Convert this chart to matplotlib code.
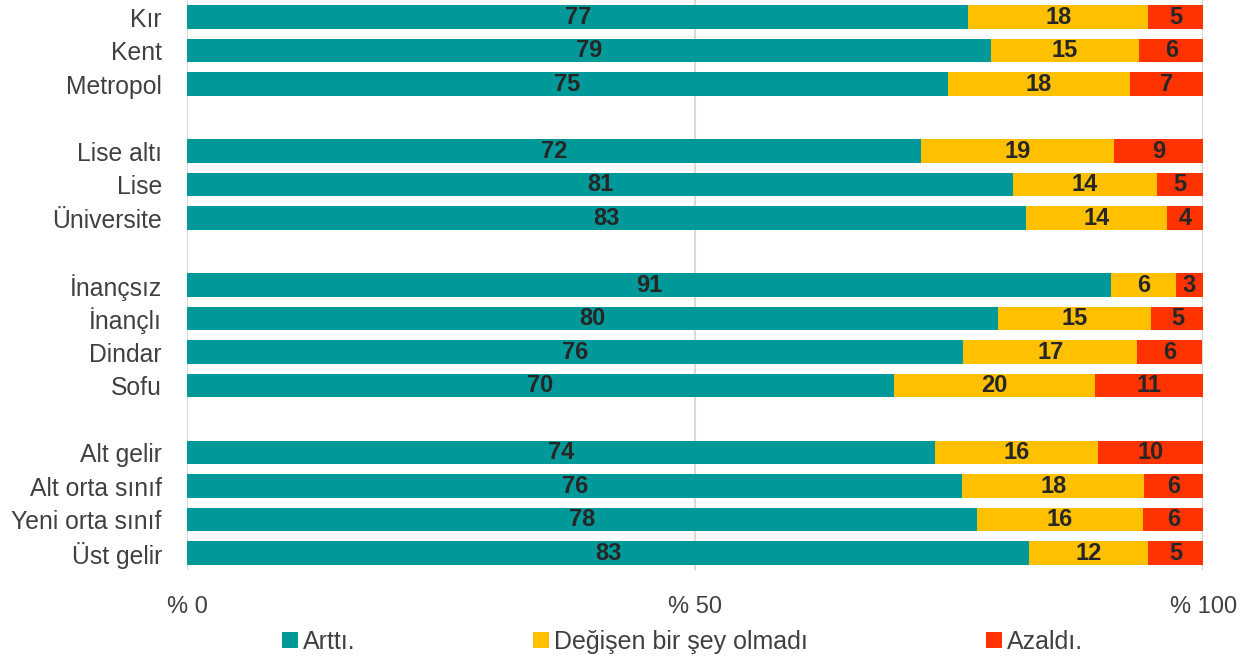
import matplotlib
matplotlib.use("Agg")
import matplotlib.pyplot as plt
from matplotlib.patches import Patch
import numpy as np

categories = ["Kır", "Kent", "Metropol", "",
              "Lise altı", "Lise", "Üniversite", "",
              "İnançsız", "İnançlı", "Dindar", "Sofu", "",
              "Alt gelir", "Alt orta sınıf", "Yeni orta sınıf", "Üst gelir"]
artti = [76.9, 79.1, 74.9, None,
         72.2, 81.3, 82.6, None,
         90.9, 79.8, 76.4, 69.6, None,
         73.6, 76.3, 77.7, 82.9]
degismedi = [17.7, 14.6, 17.9, None,
             19.0, 14.1, 13.8, None,
             6.4, 15.1, 17.1, 19.7, None,
             16.0, 17.9, 16.4, 11.7]
azaldi = [5.4, 6.3, 7.2, None,
          8.8, 4.6, 3.6, None,
          2.7, 5.1, 6.4, 10.7, None,
          10.4, 5.8, 5.9, 5.4]
series_names = ["Arttı.", "Değişen bir şey olmadı", "Azaldı."]
colors = ["#009999", "#FFC000", "#FF3300"]
xticks = [0, 50, 100]
xticklabels = ["% 0", "% 50", "% 100"]

plt.rcParams['font.family'] = ['Liberation Sans', 'DejaVu Sans']

fig = plt.figure(figsize=(12.53, 6.59), dpi=100)
ax = fig.add_axes([0.1492, 0.1354, 0.8111, 0.8642])

ypos = np.arange(len(categories))
for i, cat in enumerate(categories):
    if artti[i] is None:
        continue
    left = 0
    for vals, col in zip([artti, degismedi, azaldi], colors):
        v = vals[i]
        ax.barh(ypos[i], v, left=left, height=0.7, color=col, zorder=3)
        ax.text(left + v / 2, ypos[i], "%.0f" % v, ha='center', va='center',
                fontsize=17, fontweight='bold', color='#262626', zorder=4)
        left += v

ax.set_xlim(0, 100)
ax.set_ylim(len(categories) - 0.5, -0.5)
ax.set_yticks(ypos)
ax.set_yticklabels(categories, fontsize=17.8, color='#404040')
ax.set_xticks(xticks)
ax.set_xticklabels(xticklabels, fontsize=17, color='#404040')
ax.tick_params(axis='both', length=0)
ax.tick_params(axis='y', pad=18)
ax.tick_params(axis='x', pad=19)
ax.grid(axis='x', color='#d9d9d9', linewidth=1.5, zorder=0)
for s in ax.spines.values():
    s.set_visible(False)

handles = [Patch(facecolor=c, edgecolor='none') for c in colors]
fig.legend(handles, series_names, loc='center', bbox_to_anchor=(0.5445, 0.026),
           ncol=3, frameon=False, fontsize=18, handlelength=0.65, handleheight=0.65,
           handletextpad=0.2, columnspacing=7.1, labelcolor='#404040')

fig.savefig("out.png", dpi=100)
